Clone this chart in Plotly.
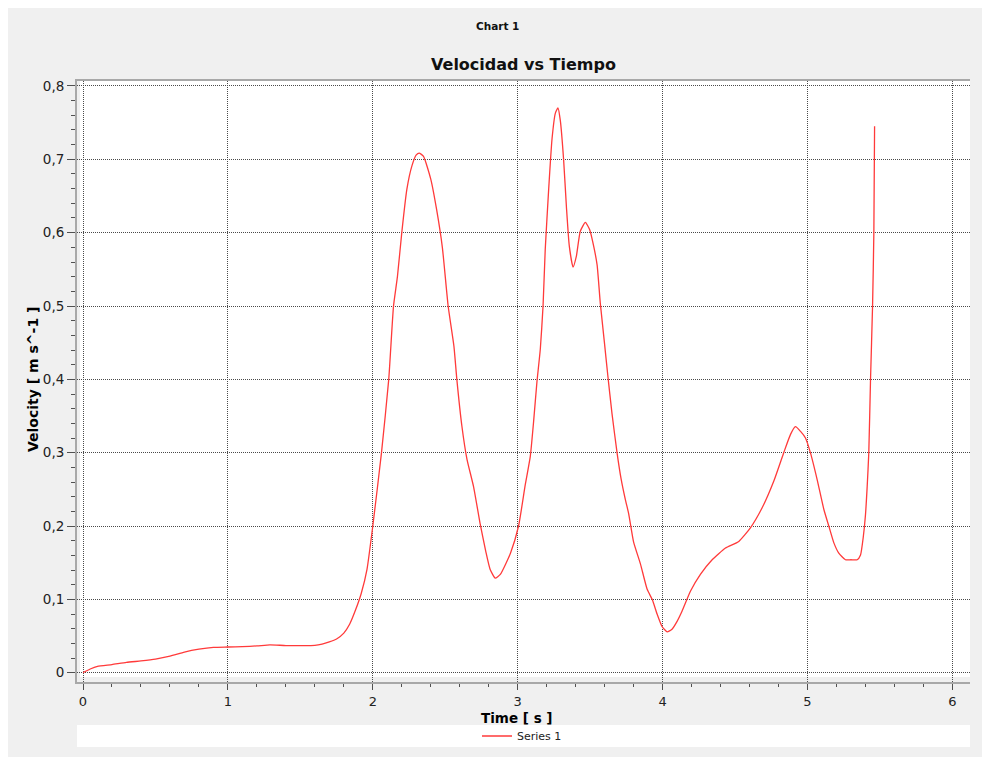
import plotly.graph_objects as go

# ---- data ----
time_s = [0, 0.05, 0.1, 0.2, 0.3, 0.4, 0.5, 0.6, 0.7, 0.8, 0.9, 1.0, 1.1, 1.2, 1.29, 1.4, 1.5, 1.6,
          1.65, 1.7, 1.75, 1.8, 1.84, 1.88, 1.92, 1.96, 2.0, 2.06, 2.11, 2.143, 2.17, 2.2, 2.235,
          2.27, 2.3, 2.32, 2.35, 2.4, 2.44, 2.48, 2.52, 2.56, 2.58, 2.615, 2.65, 2.695, 2.74,
          2.78, 2.81, 2.845, 2.88, 2.95, 3.006, 3.052, 3.087, 3.11, 3.133, 3.156, 3.175, 3.19,
          3.214, 3.237, 3.26, 3.278, 3.294, 3.317, 3.336, 3.356, 3.382, 3.405, 3.432, 3.467,
          3.497, 3.524, 3.548, 3.57, 3.598, 3.621, 3.651, 3.686, 3.713, 3.743, 3.766, 3.80,
          3.847, 3.893, 3.93, 3.962, 3.996, 4.031, 4.065, 4.1, 4.134, 4.192, 4.261, 4.342,
          4.434, 4.526, 4.606, 4.687, 4.767, 4.836, 4.883, 4.917, 4.952, 4.986, 5.02, 5.067,
          5.113, 5.147, 5.182, 5.216, 5.262, 5.3, 5.343, 5.366, 5.385, 5.40, 5.412, 5.423,
          5.435, 5.449, 5.458, 5.463]
velocity = [0, 0.005, 0.0085, 0.011, 0.014, 0.016, 0.0185, 0.0225, 0.028, 0.032, 0.0345, 0.035,
            0.0355, 0.0365, 0.038, 0.037, 0.037, 0.0373, 0.039, 0.042, 0.046, 0.054, 0.066,
            0.085, 0.108, 0.141, 0.2, 0.30, 0.40, 0.50, 0.54, 0.60, 0.659, 0.691, 0.706, 0.7085,
            0.704, 0.673, 0.632, 0.58, 0.50, 0.445, 0.40, 0.336, 0.291, 0.254, 0.204, 0.165,
            0.1406, 0.129, 0.134, 0.163, 0.2, 0.256, 0.295, 0.343, 0.397, 0.441, 0.50, 0.577,
            0.66, 0.728, 0.763, 0.770, 0.753, 0.699, 0.636, 0.582, 0.553, 0.568, 0.602, 0.614,
            0.604, 0.582, 0.556, 0.504, 0.451, 0.407, 0.353, 0.2995, 0.265, 0.236, 0.2167,
            0.178, 0.1484, 0.114, 0.099, 0.080, 0.063, 0.0557, 0.0593, 0.07, 0.0837, 0.111,
            0.134, 0.154, 0.170, 0.179, 0.1975, 0.2248, 0.261, 0.30, 0.325, 0.3354, 0.329,
            0.320, 0.30, 0.263, 0.2225, 0.20, 0.177, 0.163, 0.154, 0.154, 0.154, 0.1605,
            0.185, 0.215, 0.254, 0.30, 0.40, 0.50, 0.60, 0.745]

series_name = "Series 1"
chart_caption = "Chart 1"
chart_title = "Velocidad vs Tiempo"
x_title = "Time [ s ]"
y_title = "Velocity [ m s^-1 ]"

# ---- layout geometry (figure pixels; page adds an 8px body margin) ----
OFF = 8
W, H = 990, 757
L, T = 77 - OFF, 81 - OFF
RIGHT, BOTTOM = 970 - OFF, 682 - OFF
R, B = W - RIGHT, H - BOTTOM
PW, PH = RIGHT - L, BOTTOM - T


def px(xs):
    return (xs - OFF - L) / PW


def py(ys):
    return (BOTTOM - (ys - OFF)) / PH


FONT = "DejaVu Sans"
grid = dict(showgrid=True, gridcolor="#4a4a4a", gridwidth=1, griddash="1px,1px")

fig = go.Figure()
fig.add_trace(go.Scatter(x=time_s, y=velocity, mode="lines", name=series_name,
                         line=dict(color="#ff3a3a", width=1.3, shape="spline", smoothing=0.5),
                         showlegend=True))

fig.update_layout(
    width=W, height=H,
    margin=dict(l=L, r=R, t=T, b=B),
    paper_bgcolor="#f0f0f0",
    plot_bgcolor="#f0f0f0",
    separators=", ",
    font=dict(family=FONT, color="#222222", size=12),
    title=dict(text="<b>" + chart_title + "</b>", x=0.5, xref="paper", xanchor="center",
               y=1 - (64 - OFF) / H, yref="container", yanchor="middle",
               font=dict(family=FONT, size=16, color="#111111")),
    xaxis=dict(range=[-0.0414, 6.1215], dtick=1, tick0=0, ticks="outside", ticklen=6,
               tickcolor="#505050", tickwidth=1, showline=True, linecolor="#a8a8a8", linewidth=2,
               mirror=True, zeroline=False, tickfont=dict(size=13, color="#222222"),
               minor=dict(dtick=0.2, tick0=0, ticks="outside", ticklen=3, tickcolor="#505050",
                          showgrid=False),
               **grid),
    yaxis=dict(range=[-0.0127, 0.8068], dtick=0.1, tick0=0, ticks="outside", ticklen=8,
               tickcolor="#505050", tickwidth=1, showline=True, linecolor="#a8a8a8", linewidth=2,
               zeroline=False, tickfont=dict(size=13.5, color="#222222"), tickformat=".1~f",
               minor=dict(dtick=0.02, tick0=0, ticks="outside", ticklen=4, tickcolor="#505050",
                          showgrid=False),
               **grid),
    legend=dict(orientation="h", x=px(522), xanchor="center", y=py(736), yanchor="middle",
                bgcolor="rgba(0,0,0,0)", font=dict(size=11, color="#222222"),
                itemwidth=30),
    shapes=[
        dict(type="rect", xref="paper", yref="paper", x0=px(80), x1=1, y0=py(677), y1=1,
             fillcolor="white", line=dict(width=0), layer="below"),
        dict(type="rect", xref="paper", yref="paper", x0=0, x1=1, y0=py(747), y1=py(725),
             fillcolor="white", line=dict(width=0), layer="below"),
    ],
    annotations=[
        dict(text="<b>" + chart_caption + "</b>", xref="paper", yref="paper", x=px(497),
             y=py(26), showarrow=False, xanchor="center", yanchor="middle",
             font=dict(family=FONT, size=10.5, color="#111111")),
        dict(text="<b>" + x_title + "</b>", xref="paper", yref="paper", x=px(517),
             y=py(718), showarrow=False, xanchor="center", yanchor="middle",
             font=dict(family=FONT, size=13.5, color="#000000")),
        dict(text="<b>" + y_title + "</b>", xref="paper", yref="paper", x=px(33),
             y=py(380), showarrow=False, xanchor="center", yanchor="middle", textangle=-90,
             font=dict(family=FONT, size=14, color="#000000")),
    ],
)

fig.write_html("out.html")
